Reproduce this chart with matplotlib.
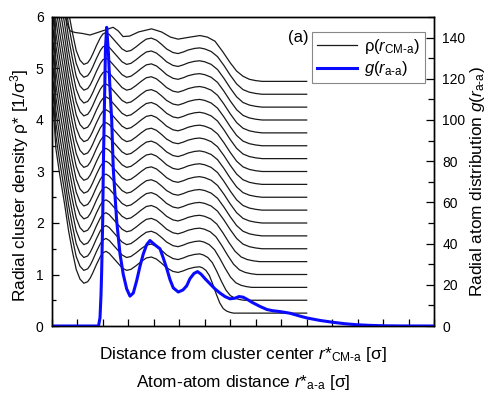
import numpy as np
import matplotlib
matplotlib.use('Agg')
import matplotlib.pyplot as plt
from matplotlib.ticker import MultipleLocator, NullFormatter

plt.rcParams['font.family'] = ['Liberation Sans', 'DejaVu Sans']
plt.rcParams['mathtext.fontset'] = 'custom'
plt.rcParams['mathtext.rm'] = 'Liberation Sans'
plt.rcParams['mathtext.it'] = 'Liberation Sans:italic'
plt.rcParams['mathtext.bf'] = 'Liberation Sans:bold'

# radial cluster density, common shape above each curve's baseline
x_rho = [0.05, 0.15, 0.3, 0.5, 0.65, 0.8, 0.95, 1.1, 1.25, 1.4, 1.5, 1.6, 1.75, 1.9,
         2.0, 2.12, 2.25, 2.5, 2.75, 2.93, 3.1, 3.3, 3.5, 3.7, 3.9, 4.1, 4.3, 4.5,
         4.75, 4.95, 5.15, 5.35, 5.6, 5.8, 6.0, 6.25, 6.5, 6.75, 7.0, 7.25, 7.5,
         7.75, 8.0, 8.25]
rho_profile = [4.0, 3.2, 2.7, 2.1, 1.6, 1.2, 0.85, 0.66, 0.58, 0.61, 0.68, 0.78, 0.95, 1.10,
               1.17, 1.20, 1.16, 1.02, 0.88, 0.83, 0.85, 0.92, 1.00, 1.07, 1.09, 1.05, 0.97, 0.88,
               0.81, 0.79, 0.82, 0.86, 0.89, 0.90, 0.88, 0.83, 0.73, 0.56, 0.37, 0.20, 0.09,
               0.04, 0.015, 0.0]
baselines = [0.25, 0.5, 0.75, 1.0, 1.25, 1.5, 1.75, 2.0, 2.25, 2.5, 2.75, 3.0,
             3.25, 3.5, 3.75, 4.0, 4.25, 4.5]
edges = [6.45, 6.65, 6.8, 6.9, 6.95, 7.0, 7.0, 7.0, 7.0, 7.0, 7.0, 7.0,
         7.0, 7.0, 7.0, 7.0, 7.0, 7.0]
x_end = 10.0

# top curve, read separately
x_top = [0.4, 0.5, 0.6, 0.71, 0.9, 1.2, 1.49, 1.8, 2.1, 2.4, 2.6, 2.79, 3.05, 3.4,
         3.91, 4.3, 4.65, 4.95, 5.3, 5.81, 6.1, 6.4, 6.7, 7.0, 7.25, 7.5, 7.75,
         8.0, 8.25, 10.0]
rho_top = [1.6, 1.35, 1.12, 0.98, 0.95, 0.93, 0.90, 0.95, 1.0, 1.05, 0.98, 0.87, 0.88, 0.96,
           1.02, 0.96, 0.86, 0.82, 0.85, 0.89, 0.86, 0.78, 0.58, 0.36, 0.2, 0.1, 0.04,
           0.015, 0.0, 0.0]
top_baseline = 4.75

# atom-atom radial distribution
x_g = [0.0, 1.826, 1.885, 1.924, 1.951, 1.991, 2.014, 2.053, 2.100, 2.148, 2.218, 2.277,
       2.344, 2.407, 2.540, 2.670, 2.799, 2.933, 3.062, 3.192, 3.325, 3.455, 3.585,
       3.718, 3.848, 3.965, 4.111, 4.240, 4.370, 4.503, 4.633, 4.762, 4.959, 5.143,
       5.289, 5.418, 5.575, 5.713, 5.850, 6.007, 6.203, 6.400, 6.596, 6.792, 6.989,
       7.185, 7.342, 7.499, 7.656, 7.852, 8.166, 8.441, 8.677, 8.952, 9.344, 9.737,
       10.012, 10.522, 11.033, 11.504, 11.975, 12.485, 13.074, 13.663, 15.0]
g_vals = [0, 0, 4, 15, 27, 51, 76, 103, 135, 145, 132, 115,
          100, 76, 51, 35, 25, 18, 14.5, 16, 22, 29, 35,
          39.5, 41.5, 40.2, 38.7, 37.5, 33, 28, 22.5, 18.5, 16.5, 17.5,
          19.5, 23, 25.5, 26.4, 25.2, 23, 20.5, 18, 16, 14.3, 13.2,
          13.5, 14.3, 14, 13, 11.5, 9.5, 8, 7.4, 7, 6.2, 4.8,
          3.9, 2.7, 1.8, 1.1, 0.6, 0.3, 0.1, 0.03, 0]

fig = plt.figure(figsize=(4.87, 3.97), dpi=100)
ax = fig.add_axes([52/487, 1-326/397, 382/487, 309/397])
ax2 = ax.twinx()

xr = np.array(x_rho)
pr = np.array(rho_profile)
for b, e in zip(baselines, edges):
    xd = np.where(xr > 5.8, 5.8 + (xr - 5.8) * (e - 5.8) / 1.2, xr)
    xd = np.append(xd, x_end)
    yd = np.append(pr, 0.0) + b
    ax.plot(xd, yd, color='#1a1a1a', lw=0.9)
ax.plot(x_top, np.array(rho_top) + top_baseline, color='#1a1a1a', lw=0.9)

ax2.plot(x_g, g_vals, color='#0a0aff', lw=2.2)

ax.set_xlim(0, 15)
ax.set_ylim(0, 6)
ax2.set_ylim(0, 150)

ax.xaxis.set_major_locator(MultipleLocator(1))
ax.xaxis.set_major_formatter(NullFormatter())
ax.yaxis.set_major_locator(MultipleLocator(1))
ax.yaxis.set_minor_locator(MultipleLocator(0.5))
ax2.yaxis.set_major_locator(MultipleLocator(20))
ax2.yaxis.set_minor_locator(MultipleLocator(10))

ax.tick_params(axis='both', which='both', direction='in', top=False, right=False,
               labelsize=10, pad=6)
ax.tick_params(which='major', length=5, width=0.9)
ax.tick_params(which='minor', length=3, width=0.9)
ax2.tick_params(axis='y', which='both', direction='in', labelsize=10, pad=6)
ax2.tick_params(which='major', length=6, width=0.9)
ax2.tick_params(which='minor', length=4, width=0.9)
for a in (ax, ax2):
    for s in a.spines.values():
        s.set_linewidth(1.0)

ax.set_ylabel('Radial cluster density ρ* [1/σ$^3$]', fontsize=12.4)
ax.yaxis.set_label_coords(-0.055, 0.456)
ax2.set_ylabel(r'Radial atom distribution $g(r_{\text{a-a}})$', fontsize=12.4)
ax2.yaxis.set_label_coords(1.088, 0.468)

fig.text(243/487, 1-355/397, r'Distance from cluster center $r{*}_{\text{CM-a}}$ [σ]',
         ha='center', va='center', fontsize=12.4)
fig.text(243/487, 1-383/397, r'Atom-atom distance $r{*}_{\text{a-a}}$ [σ]',
         ha='center', va='center', fontsize=12.4)

ax.text(0.645, 0.935, '(a)', transform=ax.transAxes, ha='center', va='center', fontsize=12)

h1, = ax.plot([], [], color='#1a1a1a', lw=0.9)
h2, = ax.plot([], [], color='#0a0aff', lw=2.2)
leg = ax.legend([h1, h2], [r'ρ($r_{\text{CM-a}}$)', r'$g(r_{\text{a-a}})$'],
                loc='upper right', bbox_to_anchor=(0.976, 0.951), borderaxespad=0,
                fontsize=12, fancybox=False, framealpha=1, edgecolor='#888888',
                handlelength=2.4, borderpad=0.3, labelspacing=0.2, handletextpad=0.4)
leg.get_frame().set_linewidth(0.8)

fig.savefig('out.png', dpi=100)
